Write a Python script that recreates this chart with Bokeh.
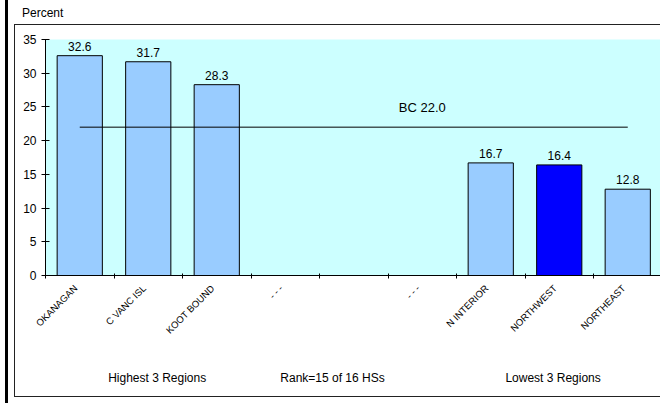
from math import pi
from bokeh.plotting import figure
from bokeh.models import (Range1d, FixedTicker, ColumnDataSource, LinearAxis, Div)
from bokeh.layouts import column
from bokeh.core.properties import value
from bokeh.embed import file_html
from bokeh.resources import INLINE

# ---- data ----
categories = ["OKANAGAN", "C VANC ISL", "KOOT BOUND", "- - -", "", "- - -",
              "N INTERIOR", "NORTHWEST", "NORTHEAST"]
values = [32.6, 31.7, 28.3, None, None, None, 16.7, 16.4, 12.8]
highlight = "NORTHWEST"
bc_value = 22.0
bc_label = "BC 22.0"
y_ticks = [0, 5, 10, 15, 20, 25, 30, 35]
group_texts = ["Highest 3 Regions", "Rank=15 of 16 HSs", "Lowest 3 Regions"]
y_title = "Percent"

# layout constants (x positions of the group captions, in category slots)
GROUP_POS = [1.63, 4.19, 7.41]
LABEL_SHIFT = 0.06

FONT = "Liberation Sans"
BAR = "#99CCFF"
HIL = "#0000FF"
BG = "#CCFFFF"

centers = [i + 0.5 for i in range(len(categories))]
boundaries = [float(i) for i in range(len(categories) + 1)]
label_pos = [c - LABEL_SHIFT for c in centers]

bx, bt, bc = [], [], []
for c, v, name in zip(centers, values, categories):
    if v is not None:
        bx.append(c)
        bt.append(v)
        bc.append(HIL if name == highlight else BAR)
src = ColumnDataSource(dict(x=bx, top=bt, color=bc, lab=[f"{v:.1f}" for v in bt]))

W, H = 646, 373
p = figure(width=W, height=H, output_backend="svg", toolbar_location=None,
           x_range=Range1d(0, 616 / 68.5), y_range=Range1d(0, 35),
           min_border_left=30, min_border_right=0, min_border_top=14,
           min_border_bottom=123)
p.background_fill_color = BG
p.border_fill_color = "white"
p.outline_line_color = None
p.xgrid.visible = False
p.ygrid.visible = False

p.vbar(x="x", top="top", bottom=0, width=0.66, fill_color="color",
       line_color="black", line_width=1, source=src)
p.text(x="x", y="top", text="lab", source=src, text_align="center",
       text_baseline="bottom", y_offset=-5, text_font=value(FONT),
       text_font_size="12px", text_color="black")

p.line(x=[centers[0], centers[-1]], y=[bc_value, bc_value], line_color="black",
       line_width=1)
p.text(x=[centers[5]], y=[bc_value], text=[bc_label], text_align="center",
       text_baseline="bottom", y_offset=-12, text_font=value(FONT),
       text_font_size="13px", text_color="black")

# y axis
ya = p.yaxis[0]
ya.ticker = FixedTicker(ticks=y_ticks)
ya.major_tick_in = 4
ya.major_tick_out = 4
ya.minor_tick_line_color = None
ya.axis_line_color = "black"
ya.major_tick_line_color = "black"
ya.major_label_standoff = 5
ya.major_label_text_font = FONT
ya.major_label_text_font_size = "12px"
ya.major_label_text_color = "black"

# x axis
xa = p.xaxis[0]
xa.ticker = FixedTicker(ticks=label_pos, minor_ticks=boundaries)
xa.major_label_overrides = {c: (n if n else " ") for c, n in zip(label_pos, categories)}
xa.major_tick_line_color = None
xa.major_tick_in = 0
xa.major_tick_out = 0
xa.minor_tick_line_color = "black"
xa.minor_tick_in = 2
xa.minor_tick_out = 3
xa.axis_line_color = "black"
xa.major_label_orientation = pi / 4
xa.major_label_standoff = 8
xa.major_label_text_font = FONT
xa.major_label_text_font_size = "9.5px"
xa.major_label_text_color = "black"

# group captions as a second, line-less axis below
ga = LinearAxis(ticker=FixedTicker(ticks=GROUP_POS, minor_ticks=[]))
ga.major_label_overrides = {pos: t for pos, t in zip(GROUP_POS, group_texts)}
ga.axis_line_color = None
ga.major_tick_line_color = None
ga.minor_tick_line_color = None
ga.major_tick_in = 0
ga.major_tick_out = 0
ga.major_label_standoff = 28
ga.major_label_text_font = FONT
ga.major_label_text_font_size = "12px"
ga.major_label_text_color = "black"
p.add_layout(ga, "below")

p.margin = (0, 0, 0, 0)
p.styles = {"border-top": "1.5px solid #222", "border-left": "1.5px solid #222",
            "border-bottom": "1.5px solid #222"}

title = Div(text=f'<div style="font-family:{FONT};font-size:12px;color:black;'
                 f'padding-left:8px;padding-top:5px;">{y_title}</div>',
            width=W, height=24, margin=(0, 0, 0, 0))

layout = column(title, p, spacing=0, margin=(0, 0, 0, 5),
                styles={"border-left": "3px solid black", "padding-left": "6px",
                        "padding-bottom": "6px"})

open("out.html", "w").write(file_html(layout, INLINE))
